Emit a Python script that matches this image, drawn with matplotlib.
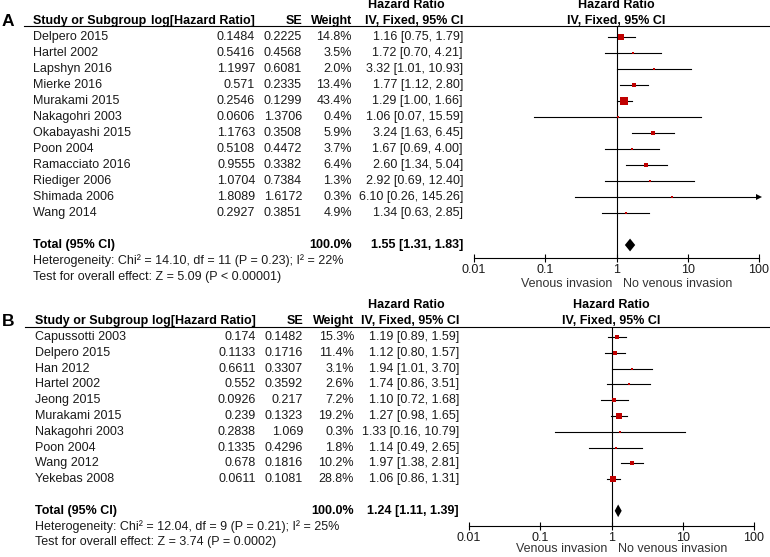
import matplotlib
matplotlib.use('Agg')
import matplotlib.pyplot as plt
from matplotlib.transforms import blended_transform_factory

plt.rcParams['font.family'] = ['Liberation Sans', 'DejaVu Sans']
plt.rcParams['font.size'] = 9

# ---- panel A data ----
studies_a = ['Delpero 2015', 'Hartel 2002', 'Lapshyn 2016', 'Mierke 2016', 'Murakami 2015',
             'Nakagohri 2003', 'Okabayashi 2015', 'Poon 2004', 'Ramacciato 2016',
             'Riediger 2006', 'Shimada 2006', 'Wang 2014']
loghr_a = [0.1484, 0.5416, 1.1997, 0.571, 0.2546, 0.0606, 1.1763, 0.5108, 0.9555, 1.0704, 1.8089, 0.2927]
se_a = [0.2225, 0.4568, 0.6081, 0.2335, 0.1299, 1.3706, 0.3508, 0.4472, 0.3382, 0.7384, 1.6172, 0.3851]
weight_a = [14.8, 3.5, 2.0, 13.4, 43.4, 0.4, 5.9, 3.7, 6.4, 1.3, 0.3, 4.9]
hr_a = [1.16, 1.72, 3.32, 1.77, 1.29, 1.06, 3.24, 1.67, 2.60, 2.92, 6.10, 1.34]
lo_a = [0.75, 0.70, 1.01, 1.12, 1.00, 0.07, 1.63, 0.69, 1.34, 0.69, 0.26, 0.63]
hi_a = [1.79, 4.21, 10.93, 2.80, 1.66, 15.59, 6.45, 4.00, 5.04, 12.40, 145.26, 2.85]
total_a = (100.0, 1.55, 1.31, 1.83)
het_a = 'Heterogeneity: Chi\u00b2 = 14.10, df = 11 (P = 0.23); I\u00b2 = 22%'
test_a = 'Test for overall effect: Z = 5.09 (P < 0.00001)'

# ---- panel B data ----
studies_b = ['Capussotti 2003', 'Delpero 2015', 'Han 2012', 'Hartel 2002', 'Jeong 2015',
             'Murakami 2015', 'Nakagohri 2003', 'Poon 2004', 'Wang 2012', 'Yekebas 2008']
loghr_b = [0.174, 0.1133, 0.6611, 0.552, 0.0926, 0.239, 0.2838, 0.1335, 0.678, 0.0611]
se_b = [0.1482, 0.1716, 0.3307, 0.3592, 0.217, 0.1323, 1.069, 0.4296, 0.1816, 0.1081]
weight_b = [15.3, 11.4, 3.1, 2.6, 7.2, 19.2, 0.3, 1.8, 10.2, 28.8]
hr_b = [1.19, 1.12, 1.94, 1.74, 1.10, 1.27, 1.33, 1.14, 1.97, 1.06]
lo_b = [0.89, 0.80, 1.01, 0.86, 0.72, 0.98, 0.16, 0.49, 1.38, 0.86]
hi_b = [1.59, 1.57, 3.70, 3.51, 1.68, 1.65, 10.79, 2.65, 2.81, 1.31]
total_b = (100.0, 1.24, 1.11, 1.39)
het_b = 'Heterogeneity: Chi\u00b2 = 12.04, df = 9 (P = 0.21); I\u00b2 = 25%'
test_b = 'Test for overall effect: Z = 3.74 (P = 0.0002)'

tick_vals = [0.01, 0.1, 1, 10, 100]
tick_labels = ['0.01', '0.1', '1', '10', '100']
left_label = 'Venous invasion'
right_label = 'No venous invasion'

W, H = 770, 557
fig = plt.figure(figsize=(W / 100, H / 100), dpi=100)
base = fig.add_axes([0, 0, 1, 1])
base.set_xlim(0, W)
base.set_ylim(H, 0)
base.axis('off')

red = '#c00000'
txt = '#1a1a1a'


def panel(letter, studies, loghr, se, weight, hr, lo, hi, total, het, test, lay):
    first, row, top, bottom = lay['first'], lay['row'], lay['top'], lay['bottom']
    fax = fig.add_axes([lay['left'] / W, (H - bottom) / H,
                        (lay['right'] - lay['left']) / W, (bottom - top) / H])
    fax.set_xscale('log')
    fax.set_xlim(0.01, 100)
    fax.set_ylim((bottom - first) / row, (top - first) / row)
    fax.patch.set_alpha(0)
    for s in ['left', 'right', 'top']:
        fax.spines[s].set_visible(False)
    fax.spines['bottom'].set_linewidth(0.8)
    fax.set_yticks([])
    fax.set_xticks(tick_vals)
    fax.set_xticklabels(tick_labels)
    fax.minorticks_off()
    fax.tick_params(axis='x', direction='inout', length=6, width=0.8, pad=1,
                    labelsize=9, labelcolor=txt)
    fax.axvline(1, color='black', lw=0.8)

    n = len(studies)
    tr = blended_transform_factory(base.transData, fax.transData)
    k = lay['k']
    for i in range(n):
        x_hi = min(hi[i], 100)
        fax.plot([lo[i], x_hi], [i, i], color='black', lw=0.8)
        if hi[i] > 100:
            fax.plot([x_hi], [i], marker='>', color='black', markersize=4, mew=0, clip_on=False)
        side = max(k * weight[i] ** 0.5, 2.0)
        fax.plot([hr[i]], [i], marker='s', color=red, markersize=side * 0.72, mew=0, lw=0)

        base.text(lay['name'], i, studies[i], transform=tr, va='center', ha='left', color=txt)
        base.text(lay['loghr'], i, '{:g}'.format(loghr[i]), transform=tr, va='center', ha='right', color=txt)
        base.text(lay['se'], i, '{:g}'.format(se[i]), transform=tr, va='center', ha='right', color=txt)
        base.text(lay['weight'], i, '{:.1f}%'.format(weight[i]), transform=tr, va='center', ha='right', color=txt)
        base.text(lay['ci'], i, '{:.2f} [{:.2f}, {:.2f}]'.format(hr[i], lo[i], hi[i]),
                  transform=tr, va='center', ha='right', color=txt)

    t = lay['total']
    wsum, est, tlo, thi = total
    d = 0.4
    fax.fill([tlo, est, thi, est], [t, t - d, t, t + d], color='black', lw=0)
    base.text(lay['name'], t, 'Total (95% CI)', transform=tr, va='center', fontweight='bold')
    base.text(lay['weight'], t, '{:.1f}%'.format(wsum), transform=tr, va='center',
              ha='right', fontweight='bold')
    base.text(lay['ci'], t, '{:.2f} [{:.2f}, {:.2f}]'.format(est, tlo, thi), transform=tr,
              va='center', ha='right', fontweight='bold')
    base.text(lay['name'], t + 1, het, transform=tr, va='center', color=txt)
    base.text(lay['name'], t + 2, test, transform=tr, va='center', color=txt)

    # headers
    bold = dict(transform=tr, va='center', fontweight='bold')
    base.text(2, -1, letter, fontsize=12.5, ha='left', **bold)
    base.text(lay['name'], -1, 'Study or Subgroup', ha='left', **bold)
    base.text(lay['loghr'], -1, 'log[Hazard Ratio]', ha='right', **bold)
    base.text(lay['se'], -1, 'SE', ha='right', **bold)
    base.text(lay['weight'], -1, 'Weight', ha='right', **bold)
    base.text(lay['ci'], -1, 'IV, Fixed, 95% CI', ha='right', **bold)
    base.text(lay['hdr'], -2, 'Hazard Ratio', ha='center', **bold)
    fax.text(1, -2, 'Hazard Ratio', ha='center', va='center', fontweight='bold', clip_on=False)
    fax.text(1, -1, 'IV, Fixed, 95% CI', ha='center', va='center', fontweight='bold', clip_on=False)
    base.plot([lay['line0'], W], [(top - first) / row] * 2, transform=tr, color='black', lw=0.8)

    fax.annotate(left_label, xy=(1, 0), xycoords=('data', 'axes fraction'),
                 xytext=(-3, -lay['dir']), textcoords='offset points',
                 ha='right', va='center', color='#333333', annotation_clip=False)
    fax.annotate(right_label, xy=(1, 0), xycoords=('data', 'axes fraction'),
                 xytext=(5, -lay['dir']), textcoords='offset points',
                 ha='left', va='center', color='#333333', annotation_clip=False)


lay_a = dict(first=37, row=16, top=26, bottom=258, left=474, right=759, name=33, loghr=255,
             se=302, weight=352, ci=463, hdr=406, line0=24, k=1.3, total=13, dir=18.5)
lay_b = dict(first=337, row=15.8, top=327, bottom=526, left=469, right=754, name=35, loghr=256,
             se=303, weight=354, ci=459, hdr=406, line0=25, k=1.15, total=11, dir=16.5)

panel('A', studies_a, loghr_a, se_a, weight_a, hr_a, lo_a, hi_a, total_a, het_a, test_a, lay_a)
panel('B', studies_b, loghr_b, se_b, weight_b, hr_b, lo_b, hi_b, total_b, het_b, test_b, lay_b)

fig.savefig('out.png', dpi=100)
